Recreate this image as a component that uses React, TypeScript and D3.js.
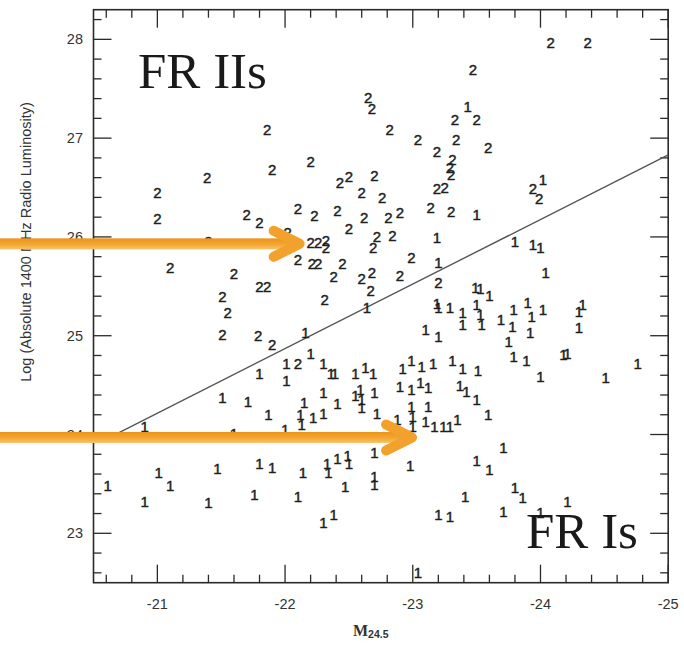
import React from "react";
import * as d3 from "d3";

const xTicks = [-21, -22, -23, -24, -25];
const yTicks = [23, 24, 25, 26, 27, 28];

// FR II sources (label "2"): absolute magnitude, log radio luminosity
const fr2Mag = [
  -24.08, -24.37, -23.47, -23.33, -23.5, -22.82, -23.04, -23.34, -23.59, -23.19,
  -23.31, -23.29, -23.3, -23.19, -23.25, -23.94, -23.99, -23.14, -23.3, -22.65,
  -22.68, -22.43, -22.5, -22.7, -22.6, -22.76, -22.41, -22.62, -22.81, -22.9,
  -22.5, -22.72, -22.84, -22.69, -21.86, -22.2, -21.9, -21.39, -21.0, -21.0,
  -22.1, -22.23, -21.7, -21.8, -22.02, -21.4, -22.2, -22.26, -22.32, -22.32,
  -22.1, -22.21, -22.26, -22.38, -22.45, -22.6, -22.68, -22.67, -21.1, -21.6,
  -21.8, -21.86, -21.51, -21.55, -21.51, -21.79, -21.9, -22.31, -22.9, -22.99,
  -23.2, -22.1,
];
const fr2Lum = [
  27.97, 27.97, 27.69, 27.19, 27.19, 27.09, 26.99, 26.99, 26.9, 26.86,
  26.78, 26.7, 26.63, 26.49, 26.5, 26.49, 26.39, 26.3, 26.26, 27.41,
  27.3, 26.55, 26.61, 26.62, 26.45, 26.4, 26.27, 26.2, 26.2, 26.25,
  26.08, 26.0, 26.01, 25.89, 27.09, 26.76, 26.68, 26.6, 26.45, 26.19,
  26.29, 26.22, 26.23, 26.15, 26.04, 25.95, 25.94, 25.94, 25.96, 25.89,
  25.77, 25.73, 25.73, 25.6, 25.73, 25.58, 25.64, 25.46, 25.69, 25.63,
  25.5, 25.5, 25.4, 25.23, 25.01, 25.0, 24.91, 25.37, 25.61, 25.79,
  25.54, 24.72,
];

// FR I sources (label "1")
const fr1Mag = [
  -23.43, -24.02, -23.5, -23.19, -23.8, -23.94, -24.0, -23.2, -24.04, -22.16,
  -22.64, -23.49, -23.53, -23.6, -23.19, -23.2, -23.29, -23.39, -23.39, -23.5,
  -23.53, -23.54, -23.69, -23.79, -23.78, -23.9, -23.93, -23.92, -24.02, -24.33,
  -24.3, -24.3, -23.1, -23.2, -23.75,
  -21.8, -22.01, -22.01, -22.2, -22.3, -22.36, -22.39, -22.55, -22.63, -22.69,
  -22.92, -22.99, -23.07, -23.16, -23.31, -23.39, -23.51, -23.79, -23.89, -24.0,
  -24.18, -24.21, -24.51, -24.76,
  -21.51, -21.71, -21.87, -22.0, -22.12, -22.13, -22.22, -22.3, -22.15, -22.3,
  -22.41, -22.55, -22.59, -22.6, -22.6, -22.7, -22.72, -22.9, -22.99, -23.06,
  -23.12, -22.88, -22.99, -23.0, -23.0, -23.12, -23.1, -23.17, -23.24, -23.29,
  -23.35, -23.37, -23.42, -23.5, -23.59, -20.9, -21.6,
  -20.61, -21.01, -21.1, -20.9, -21.47, -21.4, -21.8, -21.9, -21.76, -22.14,
  -22.1, -22.33, -22.41, -22.49, -22.5, -22.34, -22.47, -22.3, -22.38, -22.7,
  -22.7, -22.7, -22.98, -23.71, -23.5, -23.6, -23.41, -23.8, -23.86, -24.21,
  -23.2, -23.29, -23.71, -24.0, -23.04,
];
const fr1Lum = [
  27.32, 26.58, 26.23, 25.99, 25.95, 25.92, 25.89, 25.74, 25.64, 25.03,
  25.28, 25.49, 25.48, 25.41, 25.33, 25.28, 25.28, 25.23, 25.11, 25.31,
  25.21, 25.11, 25.16, 25.26, 25.09, 25.34, 25.19, 25.03, 25.26, 25.31,
  25.24, 25.08, 25.06, 24.99, 24.94,
  24.62, 24.72, 24.55, 24.82, 24.72, 24.62, 24.62, 24.62, 24.68, 24.62,
  24.67, 24.75, 24.69, 24.72, 24.75, 24.67, 24.65, 24.79, 24.75, 24.59,
  24.81, 24.82, 24.58, 24.72,
  24.37, 24.33, 24.2, 24.05, 24.2, 24.1, 24.17, 24.21, 24.32, 24.42,
  24.31, 24.39, 24.45, 24.35, 24.27, 24.42, 24.21, 24.48, 24.45, 24.53,
  24.47, 24.15, 24.28, 24.18, 24.08, 24.28, 24.13, 24.08, 24.08, 24.08,
  24.15, 24.5, 24.43, 24.35, 24.2, 24.08, 24.01,
  23.48, 23.61, 23.48, 23.32, 23.66, 23.31, 23.71, 23.67, 23.39, 23.61,
  23.37, 23.71, 23.76, 23.79, 23.71, 23.61, 23.47, 23.11, 23.19, 23.82,
  23.57, 23.49, 23.69, 23.87, 23.74, 23.64, 23.37, 23.46, 23.36, 23.32,
  23.19, 23.17, 23.22, 23.21, 22.6,
];

// FR I / FR II dividing line
const divMag = [-20.7, -25];
const divLum = [24.02, 26.83];

// annotation arrows (tip positions)
const arrowMag = [-22.13, -23.01];
const arrowLum = [25.93, 23.97];

const W = 684;
const H = 646;

export default function App() {
  const x = d3.scaleLinear().domain([-20.5, -25]).range([93.5, 668.2]);
  const y = d3.scaleLinear().domain([22.5, 28.3]).range([582.7, 9.7]);
  const [x0, x1] = x.range();
  const [yb, yt] = y.range();

  const minorX = d3.range(103, 125).map((i) => -i / 5).filter((v) => Math.abs(v - Math.round(v)) > 1e-6);
  const minorY = d3.range(113, 142).map((i) => i / 5).filter((v) => Math.abs(v - Math.round(v)) > 1e-6);

  const axisColor = "#2a2a2a";
  const majorLen = 18;
  const minorLen = 8;

  const line = d3.line<[number, number]>().x((d) => x(d[0])).y((d) => y(d[1]));
  const divPts: [number, number][] = divMag.map((m, i) => [m, divLum[i]]);

  const labelFont = "'Liberation Sans', Arial, Helvetica, sans-serif";
  const serif = "'Liberation Serif', 'Times New Roman', serif";

  return (
    <svg
      width={W}
      height={H}
      style={{ position: "absolute", left: 0, top: 0, background: "#fff" }}
    >
      <defs>
        <linearGradient id="arrowGrad" x1="0" y1="0" x2="0" y2="1">
          <stop offset="0%" stopColor="#ec9419" />
          <stop offset="55%" stopColor="#f3a633" />
          <stop offset="100%" stopColor="#f8c46a" />
        </linearGradient>
      </defs>
      <rect x={0} y={0} width={W} height={H} fill="#fff" />

      {/* frame */}
      <rect x={x0} y={yt} width={x1 - x0} height={yb - yt} fill="none" stroke={axisColor} strokeWidth={1.6} />

      {/* x ticks bottom & top */}
      {xTicks.map((t) => (
        <g key={"xt" + t}>
          <line x1={x(t)} x2={x(t)} y1={yb} y2={yb - majorLen} stroke={axisColor} strokeWidth={1.3} />
          <line x1={x(t)} x2={x(t)} y1={yt} y2={yt + majorLen} stroke={axisColor} strokeWidth={1.3} />
          <text x={x(t)} y={609} textAnchor="middle" fontFamily={labelFont} fontSize={14.5} fill="#333">
            {t}
          </text>
        </g>
      ))}
      {minorX.map((t) => (
        <g key={"xm" + t}>
          <line x1={x(t)} x2={x(t)} y1={yb} y2={yb - minorLen} stroke={axisColor} strokeWidth={1.3} />
          <line x1={x(t)} x2={x(t)} y1={yt} y2={yt + minorLen} stroke={axisColor} strokeWidth={1.3} />
        </g>
      ))}

      {/* y ticks left & right */}
      {yTicks.map((t) => (
        <g key={"yt" + t}>
          <line x1={x0} x2={x0 + majorLen} y1={y(t)} y2={y(t)} stroke={axisColor} strokeWidth={1.3} />
          <line x1={x1} x2={x1 - majorLen} y1={y(t)} y2={y(t)} stroke={axisColor} strokeWidth={1.3} />
          <text x={83} y={y(t)} dy="0.35em" textAnchor="end" fontFamily={labelFont} fontSize={14.5} fill="#333">
            {t}
          </text>
        </g>
      ))}
      {minorY.map((t) => (
        <g key={"ym" + t}>
          <line x1={x0} x2={x0 + minorLen} y1={y(t)} y2={y(t)} stroke={axisColor} strokeWidth={1.3} />
          <line x1={x1} x2={x1 - minorLen} y1={y(t)} y2={y(t)} stroke={axisColor} strokeWidth={1.3} />
        </g>
      ))}

      {/* axis titles */}
      <text
        transform={`translate(26,242) rotate(-90)`}
        textAnchor="middle"
        dy="0.35em"
        fontFamily={labelFont}
        fontSize={14.5}
        fill="#333"
      >
        Log (Absolute 1400 MHz Radio Luminosity)
      </text>
      <text x={353} y={636} fontFamily={serif} fontSize={16} fontWeight="bold" fill="#333">
        M
        <tspan fontFamily={labelFont} fontSize={10.5} dy={2}>
          24.5
        </tspan>
      </text>

      {/* dividing line */}
      <path d={line(divPts) || ""} fill="none" stroke="#555" strokeWidth={1.4} />

      {/* data labels */}
      {fr2Mag.map((m, i) => (
        <text
          key={"f2" + i}
          x={x(m)}
          y={y(fr2Lum[i])}
          dy="0.36em"
          textAnchor="middle"
          fontFamily={labelFont}
          fontSize={15}
          fill="#1e1e1e"
          stroke="#1e1e1e"
          strokeWidth={0.45}
        >
          2
        </text>
      ))}
      {fr1Mag.map((m, i) => (
        <text
          key={"f1" + i}
          x={x(m)}
          y={y(fr1Lum[i])}
          dy="0.36em"
          textAnchor="middle"
          fontFamily={labelFont}
          fontSize={15}
          fill="#1e1e1e"
          stroke="#1e1e1e"
          strokeWidth={0.45}
        >
          1
        </text>
      ))}

      {/* big labels */}
      <text x={138} y={88} fontFamily={serif} fontSize={51} fill="#1a1a1a">
        FR IIs
      </text>
      <text x={526} y={548} fontFamily={serif} fontSize={51} fill="#1a1a1a">
        FR Is
      </text>

      {/* orange arrows */}
      {arrowMag.map((m, i) => {
        const tx = x(m);
        const ty = y(arrowLum[i]);
        return (
          <g key={"ar" + i}>
            <rect x={0} y={ty - 5.5} width={tx - 6} height={11} fill="url(#arrowGrad)" />
            <polyline
              points={`${tx - 28},${ty - 13} ${tx - 2},${ty} ${tx - 28},${ty + 13}`}
              fill="none"
              stroke="#f2a12c"
              strokeWidth={10}
              strokeLinecap="round"
              strokeLinejoin="round"
            />
          </g>
        );
      })}
    </svg>
  );
}
